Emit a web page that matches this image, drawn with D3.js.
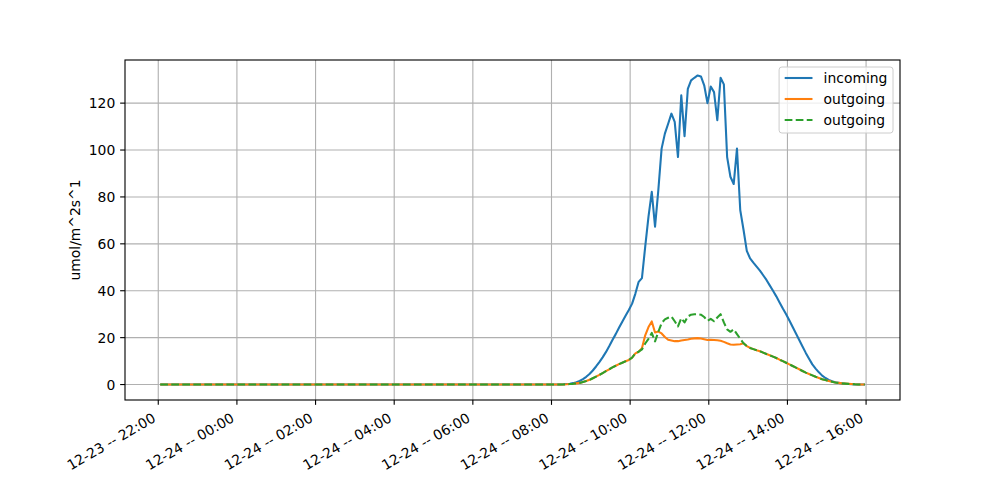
<!DOCTYPE html>
<html>
<head>
<meta charset="utf-8">
<script src="https://cdn.jsdelivr.net/npm/d3@7"></script>
<style>
  body { margin: 0; background: #ffffff; }
  svg { font-family: "DejaVu Sans", sans-serif; }
</style>
</head>
<body>
<div id="content"></div>
<script>
// one reading every 5 minutes, first at 12-23 22:03
var start = new Date(2020, 11, 23, 22, 3);
var stepMinutes = 5;

var night = [
  0, 0, 0, 0, 0, 0, 0, 0, 0, 0,
  0, 0, 0, 0, 0, 0, 0, 0, 0, 0,
  0, 0, 0, 0, 0, 0, 0, 0, 0, 0,
  0, 0, 0, 0, 0, 0, 0, 0, 0, 0,
  0, 0, 0, 0, 0, 0, 0, 0, 0, 0,
  0, 0, 0, 0, 0, 0, 0, 0, 0, 0,
  0, 0, 0, 0, 0, 0, 0, 0, 0, 0,
  0, 0, 0, 0, 0, 0, 0, 0, 0, 0,
  0, 0, 0, 0, 0, 0, 0, 0, 0, 0,
  0, 0, 0, 0, 0, 0, 0, 0, 0, 0,
  0, 0, 0, 0, 0, 0, 0, 0, 0, 0,
  0, 0, 0, 0, 0, 0, 0, 0, 0, 0
];

// from 08:03 onwards
var incomingDay = [
  0, 0, 0.05, 0.1, 0.2, 0.3, 0.6, 1.0, 1.5, 2.3,
  3.3, 4.5, 6.0, 7.7, 9.6, 11.6, 13.8, 16.3, 19.0, 21.5,
  24.2, 26.8, 29.3, 31.8, 34.5, 38.8, 43.8, 45.4, 58.8, 71.6,
  82.2, 67.3, 82.9, 100.6, 107.0, 111.2, 115.5, 112.0, 97.0, 123.3,
  105.9, 126.1, 129.7, 130.8, 131.8, 131.4, 127.6, 120.0, 127.1, 124.7,
  112.7, 130.8, 128.0, 97.0, 88.6, 85.5, 100.6, 74.4, 66.0, 57.0,
  53.8, 52.0, 50.3, 48.6, 46.6, 44.6, 42.3, 40.0, 37.6, 35.0,
  32.4, 30.0, 27.3, 24.5, 21.8, 19.0, 16.2, 13.5, 11.0, 8.6,
  6.8, 5.2, 3.8, 2.8, 2.0, 1.4, 1.0, 0.7, 0.5, 0.3,
  0.2, 0.1, 0, 0, 0, 0
];

var outgoingDay = [
  0, 0, 0, 0.05, 0.1, 0.2, 0.3, 0.5, 0.7, 1.1,
  1.5, 2.0, 2.7, 3.4, 4.1, 4.9, 5.7, 6.5, 7.3, 8.0,
  8.7, 9.3, 9.9, 10.5, 11.5, 13.3, 14.0, 15.5, 21.0, 24.5,
  26.9, 22.2, 22.6, 21.8, 20.3, 19.1, 18.8, 18.5, 18.5, 18.8,
  19.0, 19.2, 19.5, 19.7, 19.8, 19.6, 19.3, 19.0, 19.1, 19.0,
  18.9, 18.7, 18.2, 17.6, 17.1, 17.0, 17.1, 17.2, 17.6, 16.4,
  15.6, 15.1, 14.6, 14.2, 13.6, 13.0, 12.5, 11.9, 11.3, 10.6,
  10.0, 9.3, 8.6, 7.9, 7.2, 6.5, 5.8, 5.1, 4.5, 3.9,
  3.3, 2.8, 2.3, 1.9, 1.5, 1.2, 0.9, 0.7, 0.5, 0.4,
  0.3, 0.2, 0.1, 0.05, 0, 0
];

var outgoing2Day = [
  0, 0, 0, 0.05, 0.1, 0.2, 0.3, 0.5, 0.7, 1.1,
  1.5, 2.0, 2.7, 3.4, 4.1, 4.9, 5.7, 6.5, 7.3, 8.0,
  8.7, 9.3, 9.9, 10.5, 11.5, 13.3, 14.0, 15.0, 17.5, 19.5,
  22.0, 18.4, 22.5, 26.2, 27.8, 28.5, 29.0, 27.0, 24.8, 28.3,
  26.5, 29.0, 29.8, 30.0, 30.0, 29.8, 28.8, 27.2, 28.0, 27.0,
  28.6, 30.0, 26.5, 23.5, 22.5, 23.5, 21.5, 19.5, 17.6, 16.4,
  15.6, 15.1, 14.6, 14.2, 13.6, 13.0, 12.5, 11.9, 11.3, 10.6,
  10.0, 9.3, 8.6, 7.9, 7.2, 6.5, 5.8, 5.1, 4.5, 3.9,
  3.3, 2.8, 2.3, 1.9, 1.5, 1.2, 0.9, 0.7, 0.5, 0.4,
  0.3, 0.2, 0.1, 0.05, 0, 0
];

var incoming = night.concat(incomingDay);
var outgoing = night.concat(outgoingDay);
var outgoing2 = night.concat(outgoing2Day);

var seriesNames = ["incoming", "outgoing", "outgoing"];
var seriesColors = ["#1f77b4", "#ff7f0e", "#2ca02c"];
var seriesDash = [null, null, "7.7,3.33"];
var yTicks = [0, 20, 40, 60, 80, 100, 120];

var times = incoming.map(function(d, i) {
  return d3.timeMinute.offset(start, i * stepMinutes);
});

var w = 1000, h = 500;
var padL = 125, padR = 900, padT = 60, padB = 400;
var fs = 13.9;
var pt = 100 / 72; // matplotlib points to px
var lw = 1.5 * pt, tickLen = 3.5 * pt;

var svg = d3.select("#content").append("svg")
  .attr("width", w)
  .attr("height", h);

var t0 = times[0], t1 = times[times.length - 1];
var tpad = (t1 - t0) * 0.05;
var x = d3.scaleTime()
  .domain([new Date(+t0 - tpad), new Date(+t1 + tpad)])
  .range([padL, padR]);

var ymax = d3.max(incoming);
var y = d3.scaleLinear()
  .domain([-ymax * 0.05, ymax * 1.05])
  .range([padB, padT]);

var xTicks = d3.timeHour.every(2).range(new Date(2020, 11, 23, 22, 0), new Date(2020, 11, 24, 16, 1));
var fmt = d3.timeFormat("%m-%d -- %H:%M");

// grid
svg.append("g").selectAll("line")
  .data(xTicks).enter().append("line")
  .attr("x1", function(d) { return x(d); })
  .attr("x2", function(d) { return x(d); })
  .attr("y1", padT).attr("y2", padB)
  .attr("stroke", "#b0b0b0").attr("stroke-width", 0.8 * pt);

svg.append("g").selectAll("line")
  .data(yTicks).enter().append("line")
  .attr("x1", padL).attr("x2", padR)
  .attr("y1", function(d) { return y(d); })
  .attr("y2", function(d) { return y(d); })
  .attr("stroke", "#b0b0b0").attr("stroke-width", 0.8 * pt);

// lines
var allSeries = [incoming, outgoing, outgoing2];
var line = d3.line()
  .x(function(d, i) { return x(times[i]); })
  .y(function(d) { return y(d); });

allSeries.forEach(function(s, k) {
  svg.append("path")
    .datum(s)
    .attr("d", line)
    .attr("fill", "none")
    .attr("stroke", seriesColors[k])
    .attr("stroke-width", lw)
    .attr("stroke-dasharray", seriesDash[k])
    .attr("stroke-linejoin", "round");
});

// spines
svg.append("rect")
  .attr("x", padL).attr("y", padT)
  .attr("width", padR - padL).attr("height", padB - padT)
  .attr("fill", "none").attr("stroke", "#000").attr("stroke-width", 0.8 * pt);

// y axis
var yAxis = svg.append("g").selectAll("g")
  .data(yTicks).enter().append("g");
yAxis.append("line")
  .attr("x1", padL - tickLen).attr("x2", padL)
  .attr("y1", function(d) { return y(d); })
  .attr("y2", function(d) { return y(d); })
  .attr("stroke", "#000").attr("stroke-width", 0.8 * pt);
yAxis.append("text")
  .attr("x", padL - 2 * tickLen)
  .attr("y", function(d) { return y(d); })
  .attr("dy", "0.36em")
  .attr("text-anchor", "end")
  .attr("font-size", fs)
  .text(function(d) { return d; });

// x axis
var xAxis = svg.append("g").selectAll("g")
  .data(xTicks).enter().append("g");
xAxis.append("line")
  .attr("x1", function(d) { return x(d); })
  .attr("x2", function(d) { return x(d); })
  .attr("y1", padB).attr("y2", padB + tickLen)
  .attr("stroke", "#000").attr("stroke-width", 0.8 * pt);
xAxis.append("text")
  .attr("transform", function(d) {
    return "translate(" + x(d) + "," + (padB + 2 * tickLen + 16.2 * 0.866) + ") rotate(-30)";
  })
  .attr("dy", "-0.24em")
  .attr("text-anchor", "end")
  .attr("font-size", fs)
  .text(function(d) { return fmt(d); });

svg.append("text")
  .attr("transform", "translate(" + 80 + "," + ((padT + padB) / 2) + ") rotate(-90)")
  .attr("text-anchor", "middle")
  .attr("font-size", fs)
  .text("umol/m^2s^1");

// legend
var legend = svg.append("g");
var box = legend.append("rect")
  .attr("y", 67)
  .attr("height", 66)
  .attr("rx", 2.8)
  .attr("fill", "#ffffff").attr("fill-opacity", 0.8)
  .attr("stroke", "#cccccc").attr("stroke-width", 1);
var maxW = 0;
var items = legend.selectAll("g.item")
  .data(seriesNames).enter().append("g").attr("class", "item");
var texts = items.append("text")
  .attr("font-size", fs)
  .attr("y", function(d, i) { return 78 + i * 21; })
  .attr("dy", "0.36em")
  .text(function(d) { return d; });
texts.each(function() { maxW = Math.max(maxW, this.getComputedTextLength()); });
var boxW = 5.6 + 27.8 + 11.1 + maxW + 5.6;
var boxX = 893 - boxW;
box.attr("x", boxX).attr("width", boxW);
texts.attr("x", boxX + 5.6 + 27.8 + 11.1);
items.append("line")
  .attr("x1", boxX + 5.6).attr("x2", boxX + 5.6 + 27.8)
  .attr("y1", function(d, i) { return 78 + i * 21; })
  .attr("y2", function(d, i) { return 78 + i * 21; })
  .attr("stroke", function(d, i) { return seriesColors[i]; })
  .attr("stroke-width", lw)
  .attr("stroke-dasharray", function(d, i) { return seriesDash[i]; });
</script>
</body>
</html>
